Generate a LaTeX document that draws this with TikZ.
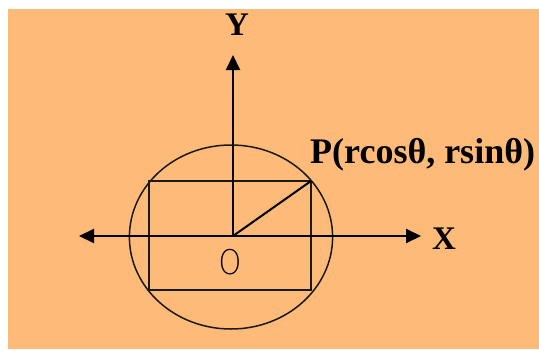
\documentclass[tikz,border=0pt]{standalone}
\usepackage{fontspec}
\setmainfont{Liberation Serif}
\newfontfamily\thinsans{DejaVu Sans ExtraLight}
\usetikzlibrary{arrows.meta}
\definecolor{bgorange}{RGB}{253,186,121}
\tikzset{
  axis/.style={line width=2pt, draw=black},
  thin line/.style={line width=1.5pt, draw=black!90},
  tip/.tip={Triangle[length=15pt,width=14pt]},
  lbl/.style={inner sep=0pt, font=\bfseries\fontsize{33}{38}\selectfont},
}
\begin{document}
\begin{tikzpicture}[x=1pt,y=-1pt]
\useasboundingbox (0,0) rectangle (539,349);
\fill[white] (0,0) rectangle (539,349);
\fill[bgorange] (8,9) rectangle (539,349);
% coordinates
\coordinate (O) at (233,236);
\coordinate (ytip) at (233,55);
\coordinate (xl) at (79,236);
\coordinate (xr) at (421,236);
\coordinate (P) at (311,181);
\coordinate (C) at (231,237);
% circle and rectangle
\draw[thin line] (C) ellipse [x radius=101.6, y radius=92];
\draw[thin line] (149,181) rectangle (P |- 0,290);
% axes
\draw[axis, {tip}-{tip}] (xl) -- (xr);
\draw[axis, -{tip}] (O) -- (ytip);
\draw[axis] (O) -- (P);
% labels
\node[lbl, anchor=base] (ylab) at (237,35) {Y};
\node[lbl, anchor=base] (xlab) at (444,249) {X};
\node[lbl, anchor=base west, font=\bfseries\fontsize{36}{40}\selectfont] (plab) at (310,163) {P(rcosθ, rsinθ)};
\node[inner sep=0pt, xscale=0.85, font=\thinsans\fontsize{34}{38}\selectfont] (olab) at (230,262) {O};
\end{tikzpicture}
\end{document}
